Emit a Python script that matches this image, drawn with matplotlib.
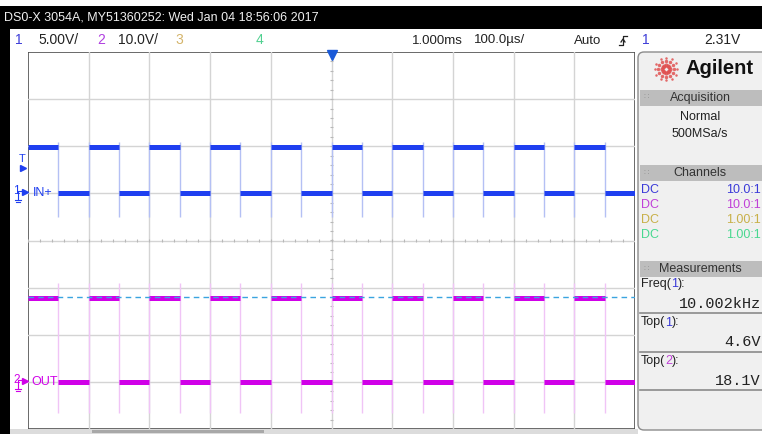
import matplotlib.pyplot as plt
import matplotlib.patches as mpatches
import numpy as np

plt.rcParams['font.family'] = ['Liberation Sans', 'DejaVu Sans']

W, H = 762, 434

# scope settings
time_per_div = 100.0          # us / div
ch1_scale = 5.0               # V / div
ch2_scale = 10.0
ch1_ground_div = 1.0          # ground markers, divisions above centre
ch2_ground_div = -3.0
trig_level = 2.31

# square wave edges (us) and levels (V)
rise_t = [-500, -400, -300, -200, -100, 0, 100, 200, 300, 400]
fall_t = [-450, -350, -250, -150, -50, 50, 150, 250, 350, 450]
ch1_levels = [0.0, 4.9]
ch2_levels = [0.0, 17.8]
ch1_edge_span = [-2.5, 5.5]
ch2_edge_span = [-6.5, 21.0]
top2_meas = 18.1

# side panel text
chan_coupling = ['DC', 'DC', 'DC', 'DC']
chan_probe = ['10.0:1', '10.0:1', '1.00:1', '1.00:1']
chan_colors = ['#3a3ad8', '#c040d8', '#c8b048', '#48d890']
meas_names = [('Freq(', '1', '):'), ('Top(', '1', '):'), ('Top(', '2', '):')]
meas_values = ['10.002kHz', '4.6V', '18.1V']

BLUE = '#1f3ff0'
MAG = '#d000e8'

# plot area in pixels
PX0, PX1, PY0, PY1 = 28, 635, 52, 429
fig = plt.figure(figsize=(W / 100, H / 100), dpi=100)
bg = fig.add_axes([0, 0, 1, 1])
bg.set_xlim(0, W)
bg.set_ylim(H, 0)
bg.axis('off')


def div_px(d):
    return (PY0 + PY1) / 2 - d * (PY1 - PY0) / 8


# frame pieces
bg.add_patch(mpatches.Rectangle((0, 6), W, 23, color='black', lw=0))
bg.add_patch(mpatches.Rectangle((0, 6), 10, H, color='black', lw=0))
bg.add_patch(mpatches.Rectangle((10, 429), 628, 5, color='#dcdcdc', lw=0))
bg.add_patch(mpatches.Rectangle((92, 430), 172, 3, color='#a8a8a8', lw=0))
bg.text(4, 18, 'DS0-X 3054A, MY51360252: Wed Jan 04 18:56:06 2017',
        color='#f0f0f0', fontsize=9, va='center')

# header row
hy = 40.5
bg.text(15, hy, '1', color='#3d3dd8', fontsize=10, va='center')
bg.text(38, hy, '5.00V/', color='#222', fontsize=10, va='center')
bg.text(97, hy, '2', color='#b040e0', fontsize=10, va='center')
bg.text(118, hy, '10.0V/', color='#222', fontsize=10, va='center')
bg.text(175, hy, '3', color='#d4b46a', fontsize=10, va='center')
bg.text(256, hy, '4', color='#50d090', fontsize=10, va='center')
bg.text(437, hy, '1.000ms', color='#222', fontsize=9.5, va='center', ha='center')
bg.text(500, hy, '100.0\u00b5s/', color='#222', fontsize=9.5, va='center', ha='center')
bg.text(588, hy, 'Auto', color='#222', fontsize=9.5, va='center', ha='center')
bg.plot([619, 623, 623, 627], [45, 45, 36, 36], color='#222', lw=0.9)
bg.plot([621, 623, 625], [42, 39, 42], color='#222', lw=0.9)
bg.text(646, hy, '1', color='#3d3dd8', fontsize=10, va='center', ha='center')
bg.text(722, hy, '2.31V', color='#222', fontsize=10, va='center', ha='center')

# scope grid
ax = fig.add_axes([PX0 / W, 1 - PY1 / H, (PX1 - PX0) / W, (PY1 - PY0) / H])
ax.set_xlim(-5 * time_per_div, 5 * time_per_div)
ax.set_ylim(-4, 4)
ax.axis('off')
ax.add_patch(mpatches.Rectangle((0, 0), 1, 1, transform=ax.transAxes,
                                facecolor='white', edgecolor='#505050', lw=1.2, zorder=0))
for k in range(-4, 5):
    ax.axvline(k * time_per_div, color='#d4d4d4', lw=1, zorder=1)
for k in range(-3, 4):
    ax.axhline(k, color='#d4d4d4', lw=1, zorder=1)
minor_y = np.arange(-4, 4.01, 0.2)
ax.hlines(minor_y, -3, 3, color='#b8b8b8', lw=0.8, zorder=1)
minor_x = np.arange(-500, 501, 20)
ax.vlines(minor_x, -0.04, 0.04, color='#b8b8b8', lw=0.8, zorder=1)


def ch_div(v, scale, ground):
    return ground + v / scale


def draw_channel(levels, scale, ground, span, color, faint):
    edges = sorted(rise_t + fall_t)
    lo = ch_div(levels[0], scale, ground)
    hi = ch_div(levels[1], scale, ground)
    ax.vlines(edges[1:], ch_div(span[0], scale, ground), ch_div(span[1], scale, ground),
              color=faint, lw=1, zorder=2)
    for r, f in zip(rise_t, fall_t):
        nxt = r + time_per_div
        ax.plot([r, f], [hi, hi], color=color, lw=3.6, solid_capstyle='butt', zorder=3)
        ax.plot([f, nxt], [lo, lo], color=color, lw=3.6, solid_capstyle='butt', zorder=3)


draw_channel(ch1_levels, ch1_scale, ch1_ground_div, ch1_edge_span, BLUE, '#b4c0f4')
draw_channel(ch2_levels, ch2_scale, ch2_ground_div, ch2_edge_span, MAG, '#f0c4f6')
ax.axhline(ch_div(top2_meas, ch2_scale, ch2_ground_div), color='#3aa4e0', lw=1,
           ls=(0, (4, 3)), zorder=4)

# overlay for labels drawn on top of the screen
ov = fig.add_axes([0, 0, 1, 1])
ov.set_xlim(0, W)
ov.set_ylim(H, 0)
ov.axis('off')
ov.patch.set_alpha(0)

for ground, name, color in [(ch1_ground_div, '1', BLUE), (ch2_ground_div, '2', MAG)]:
    y = div_px(ground)
    ov.text(13, y - 2, name, color=color, fontsize=8.5, va='center')
    ov.plot([25], [y - 1], marker='>', color=color, ms=4)
    ov.plot([18, 18, 22], [y + 7, y - 2, y - 2], color=color, lw=0.8)
    ov.plot([15, 21], [y + 7, y + 7], color=color, lw=0.8)
    ov.plot([16, 20], [y + 9, y + 9], color=color, lw=0.8)
ov.text(33, div_px(ch1_ground_div), 'IN+', color=BLUE, fontsize=9, va='center')
ov.text(31, div_px(ch2_ground_div), 'OUT', color=MAG, fontsize=9, va='center')
ty = div_px(ch_div(trig_level, ch1_scale, ch1_ground_div))
ov.text(22, ty - 13, 'T', color=BLUE, fontsize=8, va='center', ha='center')
ov.plot([23], [ty - 4], marker='>', color=BLUE, ms=4)
ov.plot([(PX0 + PX1) / 2], [55], marker='v', color='#1a5ad8', ms=7)

# side panel
ov.add_patch(mpatches.FancyBboxPatch((638, 52), 140, 378,
                                     boxstyle='round,pad=0,rounding_size=6',
                                     facecolor='#f0f0f0', edgecolor='#8c8c8c', lw=1))
for ang in np.arange(0, 360, 30):
    for rr, sz in [(4, 3), (8, 2.5), (11, 1.8)]:
        ov.plot(666 + rr * np.cos(np.radians(ang)), 69 + rr * np.sin(np.radians(ang)),
                'o', color='#e05050', ms=sz, alpha=0.85, mec='none')
ov.text(686, 69, 'Agilent', fontsize=14.5, fontweight='bold', color='#111', va='center')


def header(y0, label):
    ov.add_patch(mpatches.Rectangle((640, y0), 125, 16, color='#bdbdbd', lw=0))
    ov.text(700, y0 + 8, label, fontsize=9, color='#333', va='center', ha='center')
    ov.text(644, y0 + 8, '\u2237', fontsize=6, color='#9a9a9a', va='center')


header(90, 'Acquisition')
ov.text(700, 117, 'Normal', fontsize=9, color='#222', va='center', ha='center')
ov.text(700, 134, '500MSa/s', fontsize=9, color='#222', va='center', ha='center')
header(165, 'Channels')
for i in range(4):
    y = 190 + 15 * i
    ov.text(641, y, chan_coupling[i], fontsize=9, color=chan_colors[i], va='center')
    ov.text(761, y, chan_probe[i], fontsize=9, color=chan_colors[i], va='center',
            ha='right')
header(261, 'Measurements')
for i in range(3):
    y = 287 + 38.5 * i
    a, b, c = meas_names[i]
    col = '#3a3ad8' if b == '1' else '#c040d8'
    t1 = ov.text(641, y, a, fontsize=9, color='#222', va='baseline')
    t2 = ov.annotate(b, xy=(1, 0), xycoords=t1, fontsize=9, color=col, va='bottom')
    ov.annotate(c, xy=(1, 0), xycoords=t2, fontsize=9, color='#222', va='bottom')
    ov.text(761, y + 17, meas_values[i], fontsize=11, family='Liberation Mono',
            color='#222', va='center', ha='right')
    ov.plot([640, 762], [y + 26, y + 26], color='#8a8a8a', lw=1.2)

fig.savefig('out.png', dpi=100)
